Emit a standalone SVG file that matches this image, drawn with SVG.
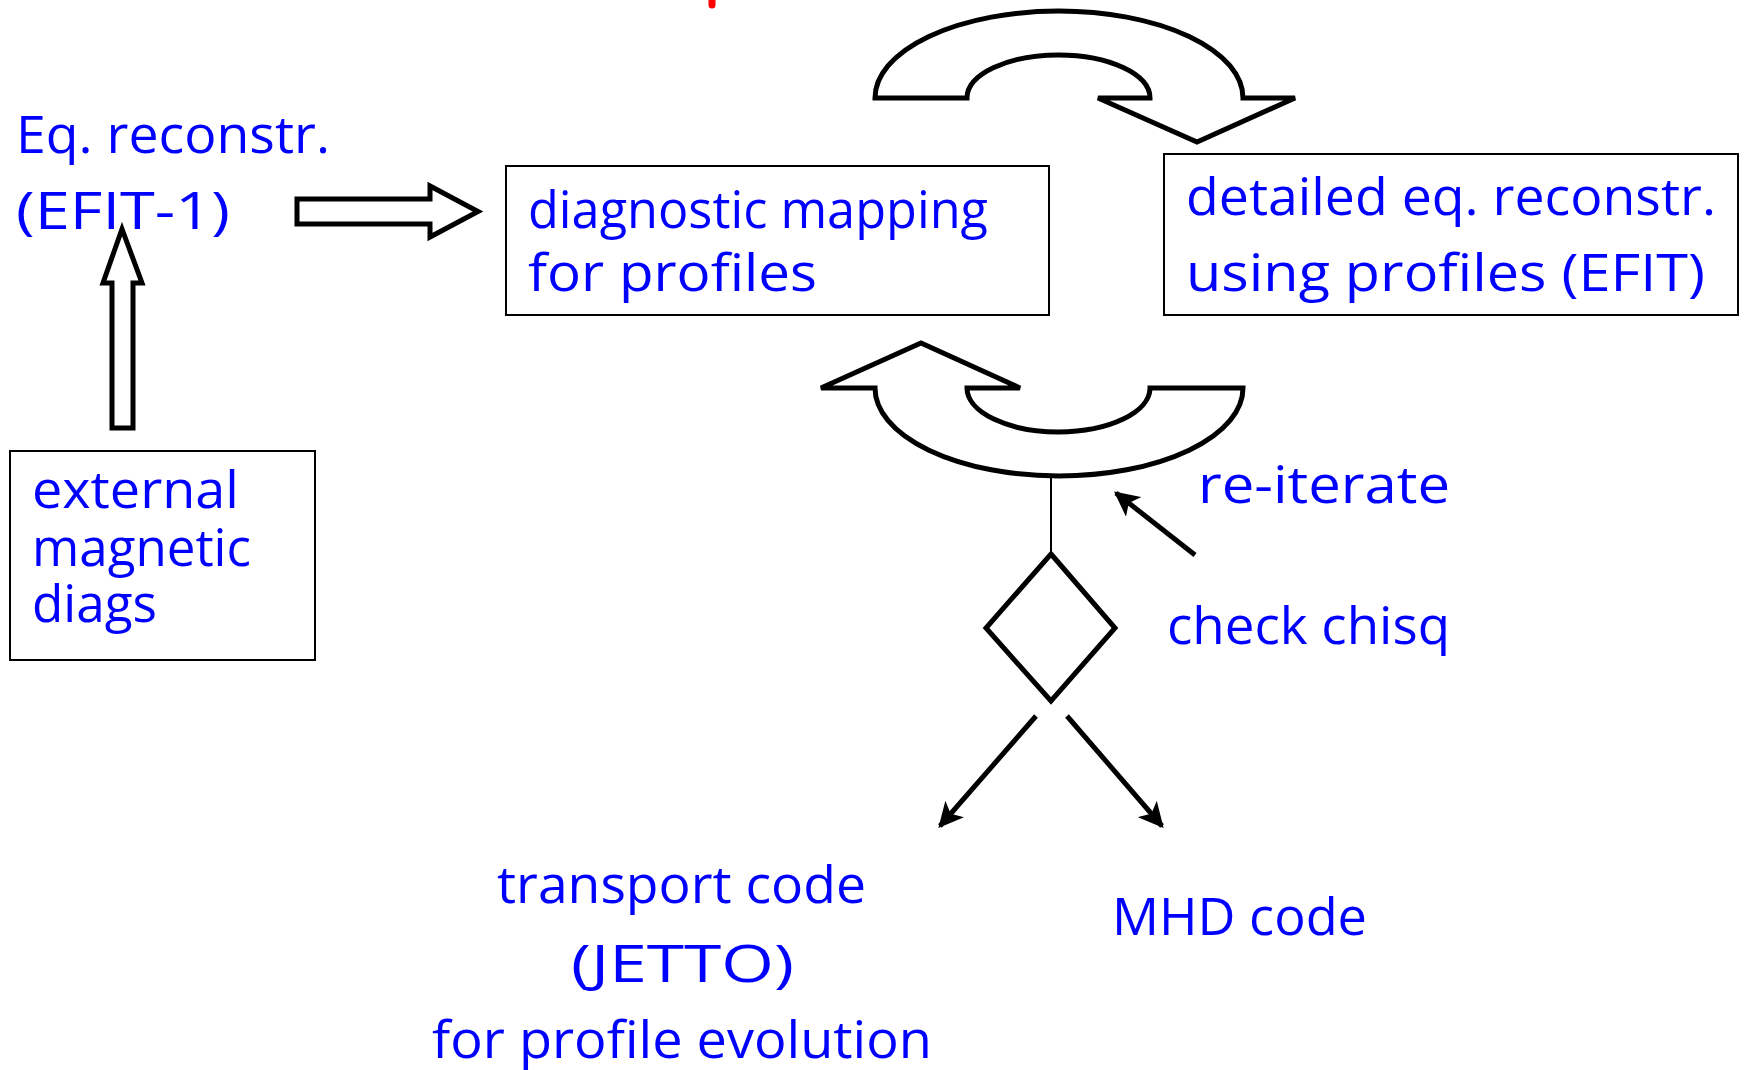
<svg xmlns="http://www.w3.org/2000/svg" width="1744" height="1070" viewBox="0 0 1744 1070">
  <style>
    .lbl { font-family: "Comic Sans MS", "Open Sans", "DejaVu Sans", sans-serif; font-size: 51px; fill: #0000ff; }
    .box { fill: #ffffff; stroke: #000000; stroke-width: 2; }
    .block { fill: #ffffff; stroke: #000000; stroke-width: 5; stroke-linejoin: miter; }
    .link { fill: none; stroke: #000000; stroke-width: 5; }
  </style>
  <defs>
    <marker id="head" viewBox="0 0 10 10" refX="9" refY="5" markerWidth="5" markerHeight="5" orient="auto" markerUnits="strokeWidth">
      <path d="M0,0 L10,5 L0,10 L2.5,5 Z" fill="#000000"/>
    </marker>
  </defs>
  <rect width="1744" height="1070" fill="#ffffff"/>

  <!-- fragment of the red heading cut at the top edge -->
  <path d="M712,-4 L712,5" stroke="#ff0000" stroke-width="7" stroke-linecap="round"/>

  <!-- connectors -->
  <g id="connectors">
    <!-- block arrow: external diags up to EFIT-1 -->
    <path class="block" d="M112,428 L112,283 L103,283 L122,229 L142,283 L133,283 L133,428 Z"/>
    <!-- block arrow: EFIT-1 to diagnostic mapping -->
    <path class="block" d="M297,199 L430,199 L430,186 L478,211.5 L430,237 L430,224 L297,224 Z"/>
    <!-- curved block arrow over the top -->
    <path class="block" d="M875,98 A184,87 0 0 1 1243,98 L1295,98 L1197,142 L1098,98 L1150,98 A91.5,43 0 0 0 967,98 Z"/>
    <!-- curved block arrow underneath, pointing back -->
    <path class="block" d="M821,388 L921,343 L1020,388 L967,388 A91.5,44 0 0 0 1150,388 L1243,388 A184,88 0 0 1 875,388 Z"/>
    <!-- stem from the loop down to the decision -->
    <line x1="1051" y1="476" x2="1051" y2="554" stroke="#000000" stroke-width="2"/>
    <!-- re-iterate pointer -->
    <line class="link" x1="1195" y1="555" x2="1116" y2="493" marker-end="url(#head)"/>
    <!-- outputs of the decision -->
    <line class="link" x1="1036" y1="716" x2="940" y2="826" marker-end="url(#head)"/>
    <line class="link" x1="1067" y1="716" x2="1162" y2="826" marker-end="url(#head)"/>
  </g>

  <g id="eq-reconstr">
    <text class="lbl" x="16" y="153" textLength="314" lengthAdjust="spacingAndGlyphs">Eq. reconstr.</text>
    <text class="lbl" x="16" y="229" textLength="214" lengthAdjust="spacingAndGlyphs">(EFIT-1)</text>
  </g>

  <g id="external-diags">
    <rect class="box" x="10" y="451" width="305" height="209"/>
    <text class="lbl" x="32" y="508" textLength="207" lengthAdjust="spacingAndGlyphs">external</text>
    <text class="lbl" x="32" y="566" textLength="219" lengthAdjust="spacingAndGlyphs">magnetic</text>
    <text class="lbl" x="32" y="622" textLength="125" lengthAdjust="spacingAndGlyphs">diags</text>
  </g>

  <g id="diag-mapping">
    <rect class="box" x="506" y="166" width="543" height="149"/>
    <text class="lbl" x="528" y="228" textLength="460" lengthAdjust="spacingAndGlyphs">diagnostic mapping</text>
    <text class="lbl" x="528" y="291" textLength="289" lengthAdjust="spacingAndGlyphs">for profiles</text>
  </g>

  <g id="detailed-eq">
    <rect class="box" x="1164" y="154" width="574" height="161"/>
    <text class="lbl" x="1186" y="215" textLength="530" lengthAdjust="spacingAndGlyphs">detailed eq. reconstr.</text>
    <text class="lbl" x="1186" y="291" textLength="519" lengthAdjust="spacingAndGlyphs">using profiles (EFIT)</text>
  </g>

  <g id="check-chisq">
    <path class="box" style="stroke-width:5" d="M1051,554 L1115,628 L1051,701 L986,628 Z"/>
    <text class="lbl" x="1167" y="644" textLength="283" lengthAdjust="spacingAndGlyphs">check chisq</text>
  </g>

  <g id="re-iterate">
    <text class="lbl" x="1198" y="503" textLength="252" lengthAdjust="spacingAndGlyphs">re-iterate</text>
  </g>

  <g id="transport-code">
    <text class="lbl" x="497" y="903" textLength="369" lengthAdjust="spacingAndGlyphs">transport code</text>
    <text class="lbl" x="571" y="982" textLength="223" lengthAdjust="spacingAndGlyphs">(JETTO)</text>
    <text class="lbl" x="432" y="1058" textLength="500" lengthAdjust="spacingAndGlyphs">for profile evolution</text>
  </g>

  <g id="mhd-code">
    <text class="lbl" x="1112" y="935" textLength="255" lengthAdjust="spacingAndGlyphs">MHD code</text>
  </g>
</svg>
